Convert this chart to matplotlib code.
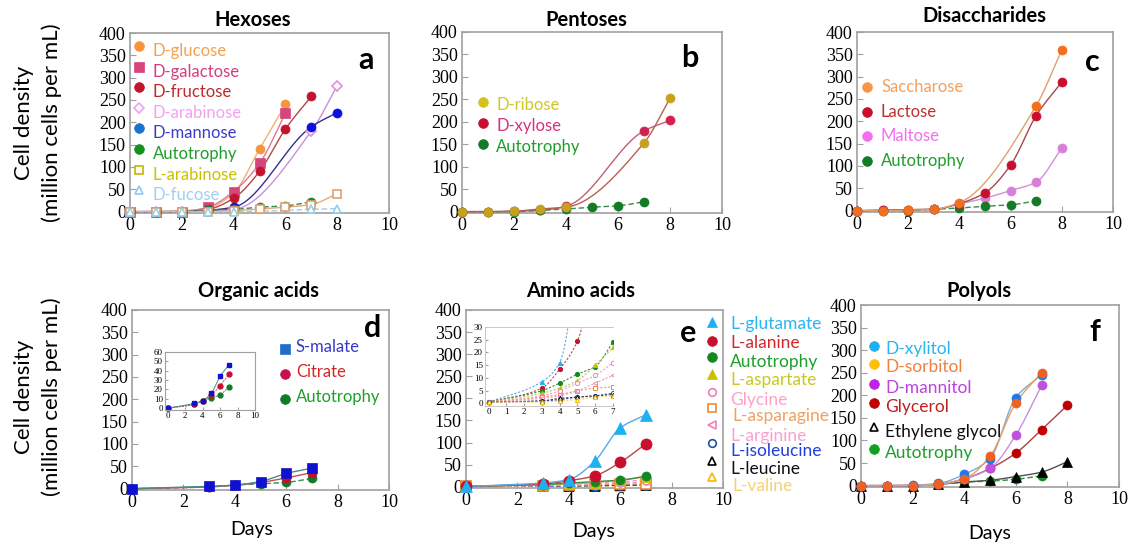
import numpy as np
import matplotlib
matplotlib.use("Agg")
import matplotlib.pyplot as plt

# ---- data (cell density, million cells per mL) ----
days8 = [0, 1, 2, 3, 4, 5, 6, 7, 8]
days_sparse = [0, 1, 2, 3, 4, 7, 8]
days_acid = [0, 3, 4, 5, 6, 7]

# a: hexoses
hex_glucose = [0, 0, 2, 8, 42, 140, 240]
hex_galactose = [0, 0, 0, 10, 45, 108, 220]
hex_fructose = [0, 0, 0, 5, 30, 90, 185, 258]
hex_arabinose = [0, 0, 0, 2, 5, 180, 282]
hex_mannose = [0, 0, 0, 3, 10, 190, 222]
hex_auto = [0, 0, 0, 3, 5, 10, 13, 22]
hex_larabinose = [0, 0, 0, 0, 2, 6, 10, 16, 40]
hex_fucose = [0, 0, 0, 0, 0, 5, 7]

# b: pentoses
pen_ribose = [0, 0, 1, 6, 10, 153, 252]
pen_xylose = [0, 0, 1, 3, 12, 180, 203]
pen_auto = [0, 0, 0, 3, 6, 10, 13, 22]

# c: disaccharides
dis_saccharose = [0, 0, 1, 3, 18, 235, 360]
dis_lactose = [0, 1, 2, 3, 16, 40, 102, 213, 288]
dis_maltose = [0, 1, 2, 3, 15, 28, 45, 64, 140]
dis_auto = [0, 0, 0, 3, 6, 10, 13, 22]

# d: organic acids
org_malate = [0, 5, 8, 16, 34, 46]
org_citrate = [0, 4, 8, 14, 24, 36]
org_auto = [0, 4, 8, 11, 14, 23]

# e: amino acids
amino_names = ['L-glutamate', 'L-alanine', 'Autotrophy', 'L-aspartate', 'Glycine',
               'L-asparagine', 'L-arginine', 'L-isoleucine', 'L-leucine', 'L-valine']
amino_vals = [
    [0.5, 8.5, 16, 57, 133, 163],
    [0.5, 6, 13.5, 24.5, 55, 97],
    [0.5, 5, 8, 11.5, 14.5, 24],
    [0.5, 4, 6, 9, 15, 22],
    [0.5, 3, 5, 8, 11, 16],
    [0.5, 2.5, 3.5, 5, 6, 6.5],
    [0.5, 2, 3, 5, 8, 11],
    [0.5, 1, 1.5, 2.5, 3, 4],
    [0.5, 1, 2, 2.5, 3, 3.5],
    [0.5, 0.5, 1, 1.5, 2.5, 3],
]

# f: polyols
pol_xylitol = [0, 0, 1, 5, 25, 60, 195, 245]
pol_sorbitol = [0, 0, 0, 3, 15, 65, 183, 250]
pol_mannitol = [0, 0, 0, 3, 15, 38, 112, 222]
pol_glycerol = [0, 0, 0, 3, 15, 38, 72, 124, 178]
pol_ethylene = [0, 0, 0, 3, 8, 12, 20, 30, 53]
pol_auto = [0, 0, 0, 3, 8, 10, 14, 22]

W, H = 1133, 548
SANS = ['Lato', 'DejaVu Sans']
SERIF = ['Liberation Serif', 'DejaVu Serif']
GREY = '#a0a0a0'
plt.rcParams['font.family'] = SERIF

fig = plt.figure(figsize=(W / 100, H / 100), dpi=100)


def fx(x):
    return x / W


def fy(y):
    return 1 - y / H


def add_axes(left, top, right, bottom):
    return fig.add_axes([fx(left), fy(bottom), (right - left) / W, (bottom - top) / H])


def smooth(x, y, n=200):
    # monotone cubic (pchip) curve through the points
    x = np.asarray(x, float)
    y = np.asarray(y, float)
    h = np.diff(x)
    d = np.diff(y) / h
    m = np.zeros_like(y)
    for k in range(1, len(x) - 1):
        if d[k - 1] * d[k] > 0:
            w1 = 2 * h[k] + h[k - 1]
            w2 = h[k] + 2 * h[k - 1]
            m[k] = (w1 + w2) / (w1 / d[k - 1] + w2 / d[k])
    m[0] = d[0]
    m[-1] = d[-1]
    xs = np.linspace(x[0], x[-1], n)
    i = np.clip(np.searchsorted(x, xs) - 1, 0, len(h) - 1)
    t = (xs - x[i]) / h[i]
    h00 = 2 * t**3 - 3 * t**2 + 1
    h10 = t**3 - 2 * t**2 + t
    h01 = -2 * t**3 + 3 * t**2
    h11 = t**3 - t**2
    ys = h00 * y[i] + h10 * h[i] * m[i] + h01 * y[i + 1] + h11 * h[i] * m[i + 1]
    return xs, ys


def set_ticks(ax, xt, yt, size):
    ax.set_xticks(xt, [str(v) for v in xt], fontfamily=SERIF, fontsize=size)
    ax.set_yticks(yt, [str(v) for v in yt], fontfamily=SERIF, fontsize=size)


def style_main(ax, xmax=10):
    ax.set_xlim(0, xmax)
    ax.set_ylim(-3, 400)
    set_ticks(ax, list(range(0, 11, 2)), list(range(0, 401, 50)), 13)
    for s in ax.spines.values():
        s.set_color(GREY)
        s.set_linewidth(1.2)
    ax.tick_params(direction='in', length=4, color=GREY, pad=3)


def series(ax, x, y, color, marker='o', line=None, ls='-', ms=6.5, fill=True, lw=1.0, z=3):
    xs, ys = smooth(x, y)
    ax.plot(xs, ys, color=line or color, lw=lw, ls=ls, zorder=z, clip_on=False)
    ax.plot(x, y, ls='none', marker=marker, ms=ms, color=color,
            mfc=color if fill else 'white', mew=1.2 if not fill else 0.5,
            zorder=z + 1, clip_on=False)


def legend_item(mx, my, tx, ty, text, mcolor, tcolor, marker='o', fill=True, ms=7, size=12):
    fig.add_artist(plt.Line2D([fx(mx)], [fy(my)], marker=marker, ms=ms, color=mcolor,
                              mfc=mcolor if fill else 'white', mew=1.2 if not fill else 0.5,
                              ls='none', transform=fig.transFigure))
    fig.text(fx(tx), fy(ty), text, color=tcolor, fontsize=size, family=SANS,
             ha='left', va='center')


def title(x, y, text):
    fig.text(fx(x), fy(y), text, fontsize=14.5, fontweight='bold', family=SANS,
             ha='center', va='center')


def letter(x, y, text):
    fig.text(fx(x), fy(y), text, fontsize=22, fontweight='bold', family=SANS,
             ha='center', va='center')


AUTO = '#14901f'
AUTO_LINE = '#3a8a4a'

# ---------- a: Hexoses ----------
ax = add_axes(130, 33, 389, 213)
style_main(ax)
series(ax, days8[:7], hex_glucose, '#f7943c', line='#f0b070')
series(ax, days8[:7], hex_galactose, '#d6457c', marker='s', line='#e07898')
series(ax, days8[:8], hex_fructose, '#c3142d', line='#b04848')
series(ax, days_sparse, hex_arabinose, '#e08ee0', marker='D', fill=False, ms=5, line='#c890d8')
series(ax, days_sparse, hex_mannose, '#0a10e0', line='#303090')
series(ax, days8[:8], hex_auto, AUTO, ls=(0, (4, 2)), line=AUTO_LINE)
series(ax, days8, hex_larabinose, '#e0a070', marker='s', fill=False, ms=6, line='#e8a878')
series(ax, days_sparse, hex_fucose, '#90d0e8', marker='^', fill=False, ms=6, ls=(0, (4, 2)), line='#a8cce0')
title(253, 20, 'Hexoses')
letter(366, 60, 'a')
hex_legend = [
    ('D-glucose', '#f7943c', '#f6a04d', 'o', True),
    ('D-galactose', '#d6457c', '#d43f7a', 's', True),
    ('D-fructose', '#c3142d', '#c0282d', 'o', True),
    ('D-arabinose', '#f0a0ee', '#f2a2ef', 'D', False),
    ('D-mannose', '#1d73c9', '#3c3cc8', 'o', True),
    ('Autotrophy', AUTO, '#1e9e2a', 'o', True),
    ('L-arabinose', '#c8b400', '#c9c200', 's', False),
    ('D-fucose', '#8fc8f0', '#9fcff5', '^', False),
]
for k, (name, mc, tc, mk, fl) in enumerate(hex_legend):
    legend_item(139, 46 + 20.6 * k, 153, 51 + 20.6 * k, name, mc, tc, mk, fl,
                ms=7 if fl else 5.5)

# ---------- b: Pentoses ----------
ax = add_axes(462, 32, 722, 213)
style_main(ax)
series(ax, days_sparse, pen_xylose, '#d4204c', line='#c06070')
series(ax, days8[:8], pen_auto, '#137a25', ls=(0, (4, 2)), line=AUTO_LINE)
series(ax, days_sparse, pen_ribose, '#c8a020', line='#b86050')
title(586, 20, 'Pentoses')
letter(690, 58, 'b')
for k, (name, mc, tc) in enumerate([('D-ribose', '#d4c020', '#d0c820'),
                                    ('D-xylose', '#c8102e', '#d8307a'),
                                    ('Autotrophy', '#137a25', '#1e9e2a')]):
    legend_item(483, 102 + 21 * k, 496, 105 + 21 * k, name, mc, tc)

# ---------- c: Disaccharides ----------
ax = add_axes(857, 32, 1113, 212)
style_main(ax)
series(ax, days8, dis_maltose, '#d880d8', line='#d090d8')
series(ax, days8[:8], dis_auto, '#137a25', ls=(0, (4, 2)), line=AUTO_LINE)
series(ax, days8, dis_lactose, '#c8102e', line='#a84848')
series(ax, days_sparse, dis_saccharose, '#f07020', line='#e0a070')
title(984, 16, 'Disaccharides')
letter(1092, 62, 'c')
for k, (name, mc, tc) in enumerate([('Saccharose', '#f79646', '#f4a060'),
                                    ('Lactose', '#c8102e', '#c03030'),
                                    ('Maltose', '#f070f0', '#f070f0'),
                                    ('Autotrophy', '#137a25', '#1e9e2a')]):
    legend_item(867, 87 + 24.6 * k, 881, 87 + 24.6 * k, name, mc, tc)

# ---------- d: Organic acids ----------
ax = add_axes(132, 310, 389, 490)
style_main(ax)
series(ax, days_acid, org_auto, '#137a25', ls=(0, (4, 2)), line=AUTO_LINE)
series(ax, days_acid, org_citrate, '#c8102e', line='#c05050')
series(ax, days_acid, org_malate, '#1010d0', marker='s', line='#4a8a8a')
title(258, 291, 'Organic acids')
letter(373, 328, 'd')
for k, (name, mc, tc, mk) in enumerate([('S-malate', '#1e6ec8', '#3838c8', 's'),
                                        ('Citrate', '#c8104a', '#d02828', 'o'),
                                        ('Autotrophy', '#137a25', '#1e9e2a', 'o')]):
    legend_item(285, 349 + 25 * k, 296, 347 + 25 * k, name, mc, tc, mk)

ins = add_axes(165, 352, 255, 410)
for s in ins.spines.values():
    s.set_color(GREY)
    s.set_linewidth(0.8)
ins.set_xlim(-0.3, 10)
ins.set_ylim(-2, 60)
set_ticks(ins, list(range(0, 11, 2)), list(range(0, 61, 10)), 6.5)
ins.tick_params(direction='in', length=2, color=GREY, pad=1.5)
for vals, c, mk, ln in [(org_auto, '#137a25', 'o', AUTO_LINE), (org_citrate, '#c8102e', 'o', '#c05050'),
                        (org_malate, '#1010d0', 's', '#4a8a8a')]:
    xs, ys = smooth(days_acid, vals)
    ins.plot(xs, ys, color=ln, lw=0.7, ls=(0, (2, 1)) if c != '#1010d0' else '-')
    ins.plot(days_acid, vals, ls='none', marker=mk, ms=3.5, color=c, clip_on=False)

# ---------- e: Amino acids ----------
amino_style = [
    ('#1eb0f0', '^', True, '#5aa8e8', '#2ab4f0'),
    ('#c8102e', 'o', True, '#b84848', '#d02828'),
    ('#13881f', 'o', True, AUTO_LINE, '#1e9e2a'),
    ('#c8c000', '^', True, '#c8c060', '#c8c820'),
    ('#f080b8', 'o', False, '#f0a0c8', '#ffa0c8'),
    ('#f08a3a', 's', False, '#f0a060', '#f0a060'),
    ('#f080b8', '<', False, '#e8a0c0', '#f8a0d0'),
    ('#2050a0', 'o', False, '#3050a0', '#2040d8'),
    ('#000000', '^', False, '#404040', '#101010'),
    ('#f8b800', '^', False, '#f0d070', '#f8d070'),
]
ax = add_axes(466, 310, 723, 488)
style_main(ax)
for vals, (mc, mk, fl, lc, tc) in reversed(list(zip(amino_vals, amino_style))):
    big = mc in ('#1eb0f0', '#c8102e')
    series(ax, days_acid, vals, mc, marker=mk, fill=fl, line=lc, ms=8 if big else 6.5,
           ls='-' if fl else (0, (3, 2)))
title(581, 291, 'Amino acids')
letter(688, 333, 'e')
mark_y = [322, 341, 357, 374, 392, 408, 425, 443, 461, 477]
text_y = [324, 343, 362, 380, 400, 416, 436, 451, 469, 486]
text_x = [730, 730, 730, 730, 730, 732, 730, 730, 730, 732]
for name, (mc, mk, fl, lc, tc), my, ty, tx in zip(amino_names, amino_style, mark_y, text_y, text_x):
    legend_item(712, my, tx, ty, name, mc, tc, mk, fl, ms=7 if fl else 5.5, size=12.5)

ins = add_axes(485, 327, 613, 406)
ins.set_xlim(-0.2, 7)
ins.set_ylim(-1, 30)
set_ticks(ins, list(range(0, 8)), list(range(0, 31, 5)), 6.5)
for s in ins.spines.values():
    s.set_color('#c8c8c8')
    s.set_linewidth(0.7)
ins.spines['right'].set_visible(False)
ins.tick_params(direction='in', length=2, color=GREY, pad=1.5)
for vals, (mc, mk, fl, lc, tc) in zip(amino_vals, amino_style):
    xs, ys = smooth(days_acid, vals)
    ins.plot(xs, ys, color=lc, lw=0.8, ls=(0, (2, 1.5)))
    ins.plot(days_acid, vals, ls='none', marker=mk, ms=3, color=mc,
             mfc=mc if fl else 'white', mew=0.7)

# ---------- f: Polyols ----------
ax = add_axes(861, 305, 1119, 487)
style_main(ax)
series(ax, days8[:8], pol_auto, '#13881f', ls=(0, (4, 2)), line=AUTO_LINE)
series(ax, days8, pol_ethylene, '#000000', marker='^', line='#505050')
series(ax, days8, pol_glycerol, '#c00000', line='#b04040')
series(ax, days8[:8], pol_mannitol, '#c050e0', line='#c890e0')
series(ax, days8[:8], pol_xylitol, '#1e78e8', line='#80a8e0')
series(ax, days8[:8], pol_sorbitol, '#f06020', line='#e8a060')
title(979, 291, 'Polyols')
letter(1095, 332, 'f')
pol_legend = [
    ('D-xylitol', '#1eb0f0', '#2ab4f0', 'o', True),
    ('D-sorbitol', '#ffc000', '#f08040', 'o', True),
    ('D-mannitol', '#c020e8', '#c040e0', 'o', True),
    ('Glycerol', '#c00000', '#c02020', 'o', True),
    ('Ethylene glycol', '#000000', '#101010', '^', False),
    ('Autotrophy', '#13a020', '#1e9e2a', 'o', True),
]
pm_y = [346, 364, 384, 403, 427, 449]
pt_y = [349, 367, 388, 407, 432, 453]
for (name, mc, tc, mk, fl), my, ty in zip(pol_legend, pm_y, pt_y):
    legend_item(874, my, 885, ty, name, mc, tc, mk, fl, ms=7 if fl else 5.5, size=12.5)

# ---------- shared labels ----------
for cy in (123, 397):
    fig.text(fx(24), fy(cy), 'Cell density', rotation=90, fontsize=16, family=SANS,
             ha='center', va='center')
    fig.text(fx(52), fy(cy), '(million cells per mL)', rotation=90, fontsize=16,
             family=SANS, ha='center', va='center')
for cx, cy in ((252, 530), (594, 532), (990, 533)):
    fig.text(fx(cx), fy(cy), 'Days', fontsize=14, family=SANS, ha='center', va='center')

fig.savefig('out.png', dpi=100)
